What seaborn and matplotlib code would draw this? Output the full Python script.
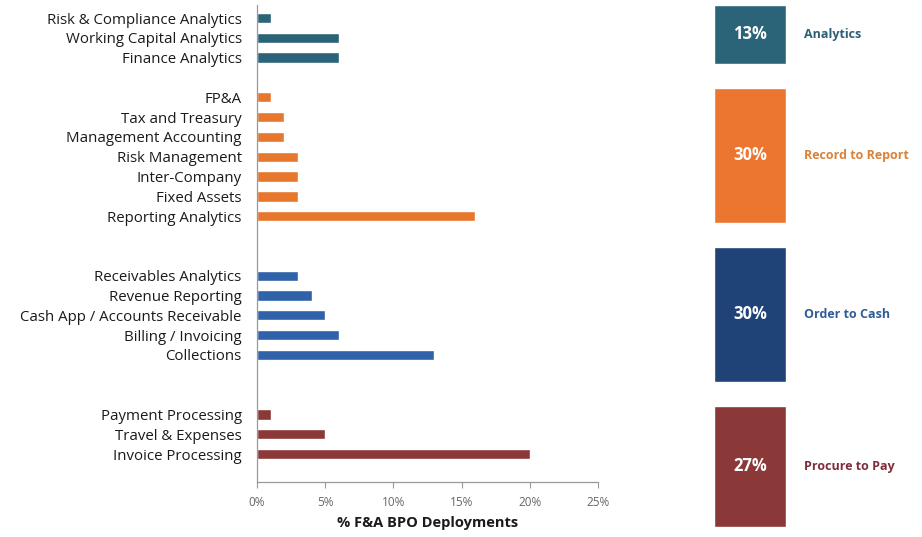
import matplotlib
matplotlib.use("Agg")
import matplotlib.pyplot as plt
import seaborn as sns
import pandas as pd

# Sub-process deployment shares (%) by process group
analytics_items = ["Risk & Compliance Analytics", "Working Capital Analytics", "Finance Analytics"]
analytics_vals = [1, 6, 6]
r2r_items = ["FP&A", "Tax and Treasury", "Management Accounting", "Risk Management",
             "Inter-Company", "Fixed Assets", "Reporting Analytics"]
r2r_vals = [1, 2, 2, 3, 3, 3, 16]
o2c_items = ["Receivables Analytics", "Revenue Reporting", "Cash App / Accounts Receivable",
             "Billing / Invoicing", "Collections"]
o2c_vals = [3, 4, 5, 6, 13]
p2p_items = ["Payment Processing", "Travel & Expenses", "Invoice Processing"]
p2p_vals = [1, 5, 20]

group_names = ["Analytics", "Record to Report", "Order to Cash", "Procure to Pay"]
group_shares = [13, 30, 30, 27]
x_ticks = [0, 5, 10, 15, 20, 25]

bar_colors = ["#2B6478", "#E8772E", "#2F62A8", "#8A3838"]
box_colors = ["#2B6478", "#EC7530", "#1F4277", "#8A3838"]
label_colors = ["#2D5F75", "#D9823A", "#2F5C9A", "#7E2E3A"]
blank_rows_after = [1, 2, 2]

sns.set_theme(style="white")
plt.rcParams["font.family"] = ["Open Sans", "DejaVu Sans"]

# Assemble a tidy frame with row positions (blank rows separate groups)
rows = []
pos = 0
groups = [(analytics_items, analytics_vals), (r2r_items, r2r_vals),
          (o2c_items, o2c_vals), (p2p_items, p2p_vals)]
for gi, (items, vals) in enumerate(groups):
    for name, v in zip(items, vals):
        rows.append({"item": name, "value": v, "group": group_names[gi], "pos": pos})
        pos += 1
    if gi < len(blank_rows_after):
        pos += blank_rows_after[gi]
df = pd.DataFrame(rows)

W, H = 922, 537
fig = plt.figure(figsize=(W / 100, H / 100), dpi=100)
fig.patch.set_facecolor("white")

ax = fig.add_axes([257 / W, 1 - 482 / H, 341 / W, (482 - 5) / H])
sns.barplot(data=df, x="value", y="pos", hue="group", orient="h", native_scale=True,
            palette=dict(zip(group_names, bar_colors)), dodge=False, width=0.52,
            legend=False, ax=ax, saturation=1)
ax.set_ylim(23.41, -0.656)
ax.set_xlim(0, 25)
ax.set_yticks(df["pos"])
ax.set_yticklabels(df["item"], fontsize=10.8, color="#1a1a1a")
ax.tick_params(axis="y", length=0, pad=11)
ax.set_xticks(x_ticks)
ax.set_xticklabels([f"{t}%" for t in x_ticks], fontsize=8.5, color="#666666")
ax.tick_params(axis="x", length=4, width=0.8, color="#999999", direction="out",
               bottom=True, pad=6)
ax.set_ylabel("")
ax.set_xlabel("% F&A BPO Deployments", fontsize=10.5, fontweight="bold",
              color="#1a1a1a", labelpad=5)
for side in ["top", "right"]:
    ax.spines[side].set_visible(False)
for side in ["left", "bottom"]:
    ax.spines[side].set_color("#999999")
    ax.spines[side].set_linewidth(0.9)
ax.grid(False)

# Group share boxes on the right, heights proportional to share
bx = fig.add_axes([714 / W, 0, 72 / W, 1])
px_per_pct = 4.5
gap_pct = 24 / px_per_pct
bottoms = []
b = 5 / px_per_pct
for s in group_shares:
    bottoms.append(b)
    b += s + gap_pct
bx.bar([0] * 4, group_shares, bottom=bottoms, width=1.0, color=box_colors, align="center")
bx.set_xlim(-0.5, 0.5)
bx.set_ylim(H / px_per_pct, 0)
bx.axis("off")
for s, b0 in zip(group_shares, bottoms):
    yc = b0 + s / 2
    bx.text(0, yc, f"{s}%", ha="center", va="center", color="white",
            fontsize=12, fontweight="bold")
for name, s, b0, lc in zip(group_names, group_shares, bottoms, label_colors):
    yc = b0 + s / 2
    bx.text(0.75, yc, name, ha="left", va="center", color=lc, fontsize=9,
            fontweight="bold", clip_on=False)

fig.savefig("out.png", dpi=100, facecolor="white")
